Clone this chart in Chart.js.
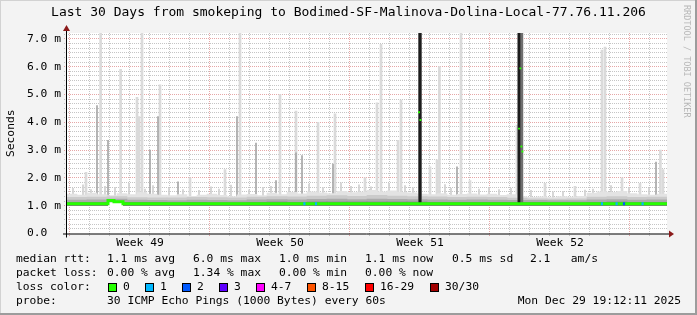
<!DOCTYPE html>
<html>
<head>
<meta charset="utf-8">
<script src="https://cdn.jsdelivr.net/npm/chart.js@4/dist/chart.umd.min.js"></script>
<style>
html, body { margin: 0; padding: 0; background: #f3f3f3; }
canvas { display: block; }
</style>
</head>
<body>
<canvas id="rrd" width="697" height="315"></canvas>
<script>
// ---- data (x in days since the start of the 30 day window) ----
var titleText = 'Last 30 Days from smokeping to Bodimed-SF-Malinova-Dolina-Local-77.76.11.206';
var yTickValues = [0, 1, 2, 3, 4, 5, 6, 7];
var yTickLabels = ['0.0  ', '1.0 m', '2.0 m', '3.0 m', '4.0 m', '5.0 m', '6.0 m', '7.0 m'];
var weekLabelDays = [3.65, 10.65, 17.65, 24.65];
var weekLabels = ['Week 49', 'Week 50', 'Week 51', 'Week 52'];

// smoke band, upper edge per half day
var smokeTop = [
    1.42, 1.38, 1.45, 1.40, 1.36, 1.44, 1.40, 1.47, 1.42, 1.38,
    1.36, 1.40, 1.34, 1.38, 1.42, 1.37, 1.33, 1.39, 1.41, 1.36,
    1.45, 1.40, 1.48, 1.43, 1.50, 1.46, 1.44, 1.52, 1.47, 1.49,
    1.55, 1.50, 1.53, 1.48, 1.46, 1.42, 1.40, 1.44, 1.38, 1.41,
    1.43, 1.39, 1.42, 1.37, 1.40, 1.33, 1.30, 1.32, 1.29, 1.33,
    1.31, 1.34, 1.45, 1.50, 1.48, 1.52, 1.44, 1.40, 1.38, 1.42
];
// upper and middle smoke layers, per day
var smokeUpper = [1.30, 1.31, 1.33, 1.29, 1.28, 1.28, 1.30, 1.29, 1.28, 1.31,
    1.33, 1.32, 1.35, 1.36, 1.34, 1.37, 1.35, 1.33, 1.32, 1.30,
    1.31, 1.30, 1.27, 1.25, 1.24, 1.25, 1.31, 1.33, 1.30, 1.31];
var smokeMid = [1.20, 1.21, 1.24, 1.20, 1.19, 1.18, 1.20, 1.19, 1.18, 1.21,
    1.22, 1.21, 1.23, 1.24, 1.22, 1.24, 1.23, 1.22, 1.21, 1.20,
    1.21, 1.20, 1.19, 1.19, 1.18, 1.18, 1.21, 1.22, 1.20, 1.21];
// dark core next to the median, per day
var smokeCore = [1.12, 1.12, 1.12, 1.12, 1.12, 1.11, 1.12, 1.11, 1.11, 1.12,
    1.13, 1.12, 1.13, 1.13, 1.13, 1.13, 1.13, 1.13, 1.12, 1.12,
    1.12, 1.12, 1.12, 1.12, 1.11, 1.11, 1.12, 1.13, 1.12, 1.12];
// stretch where the minimum rtt rose (empty below the smoke)
var raisedMinStart = 2.05;
var raisedMinEnd = 2.8;
var raisedMinValue = 1.12;

// hair-thin rtt outliers just above the smoke
var fleckDays = [0.3, 0.8, 1.2, 1.9, 2.4, 3.1, 3.9, 4.3, 5.1, 5.8, 6.6, 7.2, 7.6, 8.2, 9.1, 9.8,
    10.2, 11.1, 12.1, 12.8, 13.7, 14.2, 14.6, 15.2, 16.1, 16.9, 17.3, 18.9, 19.2, 20.6, 21.1,
    21.6, 22.2, 23.2, 24.3, 24.8, 25.9, 26.3, 27.2, 28.1, 29.1];
var fleckTops = [1.62, 1.75, 1.58, 1.7, 1.66, 1.8, 1.6, 1.72, 1.64, 1.58, 1.55, 1.68, 1.6, 1.74, 1.57, 1.66,
    1.7, 1.62, 1.78, 1.65, 1.82, 1.7, 1.75, 1.68, 1.8, 1.72, 1.64, 1.76, 1.62, 1.6, 1.66,
    1.58, 1.62, 1.55, 1.5, 1.52, 1.56, 1.6, 1.72, 1.66, 1.62];

// single rtt spikes: light (wide) and darker (thin)
var spikeLightDays = [0.95, 1.68, 2.68, 3.5, 3.6, 3.75, 4.65, 6.15, 7.9, 8.65, 10.65, 11.45, 12.55, 13.4,
    14.9, 15.5, 15.7, 16.55, 16.7, 18.15, 18.5, 18.62, 19.7, 20.15, 22.5, 23.9, 25.4, 26.75, 26.9,
    27.75, 28.65, 29.67, 29.8];
var spikeLightTops = [2.2, 7.2, 5.9, 4.9, 4.2, 7.2, 5.35, 2.0, 2.3, 7.2, 5.0, 4.4, 4.0, 4.3,
    2.0, 4.7, 6.8, 3.35, 4.8, 2.4, 2.65, 6.0, 7.2, 1.9, 3.9, 1.8, 1.7, 6.6, 6.7,
    2.0, 1.8, 3.0, 2.3];
var spikeDarkDays = [1.5, 2.05, 4.15, 4.55, 5.55, 8.5, 9.45, 10.45, 11.45, 11.75, 13.3, 19.5, 29.45];
var spikeDarkTops = [4.6, 3.35, 3.0, 4.2, 1.86, 4.2, 3.25, 1.9, 2.9, 2.8, 2.5, 2.4, 2.57];

// full-height outages
var outageDays = [17.65, 22.62, 22.72];
var outageCoreDays = [17.65, 22.6];

// median rtt (value holds from each day until the next) and the isolated medians during the outages
var medianDays = [0, 2.05, 2.35, 2.8, 30];
var medianValues = [1.07, 1.19, 1.14, 1.07, 1.07];
var medianHighDays = [17.6, 17.67, 22.6, 22.67, 22.72, 22.77];
var medianHighValues = [4.36, 4.08, 3.77, 5.94, 3.13, 2.95];

// samples with some packet loss (index into lossColors)
var lossDays = [11.87, 12.45, 26.75, 27.48, 27.85, 28.78];
var lossLevels = [1, 1, 1, 1, 2, 1];

var lossLabels = ['0', '1', '2', '3', '4-7', '8-15', '16-29', '30/30'];
var lossColors = ['#26ff00', '#00b8ff', '#0059ff', '#5e00ff', '#ff00ff', '#ff5500', '#ff0000', '#a10000'];

var statLines = [
    ['median rtt:', '1.1 ms avg', '6.0 ms max', '1.0 ms min', '1.1 ms now', '0.5 ms sd', '2.1   am/s'],
    ['packet loss:', '0.00 % avg', '1.34 % max', '0.00 % min', '0.00 % now']
];
var probeLabel = 'probe:';
var probeText = '30 ICMP Echo Pings (1000 Bytes) every 60s';
var stampText = 'Mon Dec 29 19:12:11 2025';
var creditText = 'RRDTOOL / TOBI OETIKER';

// ---- chart ----
var mono = '"DejaVu Sans Mono", monospace';
var smokeFloor = 1.0;

function floating(days, tops, base) {
    return days.map(function (d, i) { return { x: d, y: [base, tops[i]] }; });
}

function perDay(values) {
    return values.map(function (v, i) { return { x: i + 0.5, y: [smokeFloor, v] }; });
}

function line(ctx, x1, y1, x2, y2) {
    ctx.beginPath();
    ctx.moveTo(x1, y1);
    ctx.lineTo(x2, y2);
    ctx.stroke();
}

var rrdLook = {
    id: 'rrdLook',
    beforeDraw: function (chart) {
        var ctx = chart.ctx, a = chart.chartArea, x = chart.scales.x, y = chart.scales.y;
        ctx.save();
        ctx.fillStyle = '#f3f3f3';
        ctx.fillRect(0, 0, chart.width, chart.height);
        ctx.fillStyle = '#ffffff';
        ctx.fillRect(a.left, a.top, a.right - a.left, a.bottom - a.top);
        ctx.lineWidth = 1;
        ctx.setLineDash([1, 1]);
        // horizontal grid, minor every 1/6
        for (var k = 1; k <= 43; k++) {
            var py = Math.round(y.getPixelForValue(k / 6) - 0.5) + 0.5;
            ctx.strokeStyle = k % 6 === 0 ? 'rgba(205,80,80,0.5)' : 'rgba(150,150,150,0.55)';
            line(ctx, a.left - 3, py, a.right, py);
        }
        // vertical grid, one per day, week lines red
        for (var d = 0; d < 30; d++) {
            var px = Math.round(x.getPixelForValue(0.1 + d)) + 0.5;
            ctx.strokeStyle = d % 7 === 0 ? 'rgba(205,80,80,0.5)' : 'rgba(150,150,150,0.55)';
            line(ctx, px, a.top, px, a.bottom + 3);
        }
        ctx.restore();
    },
    afterDatasetsDraw: function (chart) {
        var ctx = chart.ctx, a = chart.chartArea;
        ctx.save();
        ctx.strokeStyle = '#000';
        ctx.lineWidth = 1;
        line(ctx, a.left - 4, a.bottom + 0.5, a.right + 3, a.bottom + 0.5);
        line(ctx, a.left - 0.5, a.bottom + 4, a.left - 0.5, a.top - 4);
        ctx.fillStyle = '#8b1a1a';
        ctx.beginPath();
        ctx.moveTo(a.right + 7, a.bottom + 0.5);
        ctx.lineTo(a.right + 2, a.bottom - 3);
        ctx.lineTo(a.right + 2, a.bottom + 4);
        ctx.closePath();
        ctx.fill();
        ctx.beginPath();
        ctx.moveTo(a.left - 0.5, a.top - 8);
        ctx.lineTo(a.left - 4, a.top - 2);
        ctx.lineTo(a.left + 3, a.top - 2);
        ctx.closePath();
        ctx.fill();
        ctx.restore();
    },
    afterDraw: function (chart) {
        var ctx = chart.ctx;
        ctx.save();
        ctx.font = '11.3px ' + mono;
        ctx.fillStyle = '#000';
        ctx.textBaseline = 'middle';
        var cols = [16, 107, 193, 279, 365, 452, 530];
        var rows = [259.5, 273.5, 287.5, 301.5];
        statLines.forEach(function (parts, r) {
            parts.forEach(function (t, i) { ctx.fillText(t, cols[i], rows[r]); });
        });
        ctx.fillText('loss color:', 16, rows[2]);
        var boxX = [108, 145, 182, 219, 256, 307, 365, 430];
        lossLabels.forEach(function (t, i) {
            ctx.fillStyle = '#000';
            ctx.fillRect(boxX[i], 283, 9, 9);
            ctx.fillStyle = lossColors[i];
            ctx.fillRect(boxX[i] + 1, 284, 7, 7);
            ctx.fillStyle = '#000';
            ctx.fillText(t, boxX[i] + 15, rows[2]);
        });
        ctx.fillText(probeLabel, 16, rows[3]);
        ctx.fillText(probeText, 107, rows[3]);
        ctx.textAlign = 'right';
        ctx.fillText(stampText, 681, rows[3]);
        // credit, rotated
        ctx.textAlign = 'left';
        ctx.fillStyle = '#b8b8b8';
        ctx.font = '8.5px ' + mono;
        ctx.translate(686, 5);
        ctx.rotate(Math.PI / 2);
        ctx.fillText(creditText, 0, 0);
        ctx.setTransform(1, 0, 0, 1, 0, 0);
        // frame
        ctx.fillStyle = '#d2d2d2';
        ctx.fillRect(0, 0, chart.width, 1);
        ctx.fillRect(0, 0, 1, chart.height);
        ctx.fillStyle = '#9c9c9c';
        ctx.fillRect(chart.width - 2, 0, 2, chart.height);
        ctx.fillRect(0, chart.height - 2, chart.width, 2);
        ctx.restore();
    }
};

var barBase = { type: 'bar', grouped: false, borderWidth: 0, yAxisID: 'y' };

new Chart(document.getElementById('rrd').getContext('2d'), {
    type: 'bar',
    data: {
        datasets: [
            {
                type: 'line', label: 'median outage', showLine: false, pointStyle: 'rect',
                pointRadius: 1.3, pointBorderWidth: 0, backgroundColor: lossColors[0],
                data: medianHighDays.map(function (d, i) { return { x: d, y: medianHighValues[i] }; })
            },
            Object.assign({}, barBase, {
                label: 'loss', barThickness: 1.5,
                backgroundColor: lossLevels.map(function (l) { return lossColors[l]; }),
                data: lossDays.map(function (d) { return { x: d, y: [1.025, 1.115] }; })
            }),
            {
                // Chart.js 'before' keeps each point's value until the next point
                type: 'line', label: 'median', stepped: 'before', borderColor: lossColors[0],
                backgroundColor: lossColors[0], borderWidth: 3, pointRadius: 0, fill: false,
                data: medianDays.map(function (d, i) { return { x: d, y: medianValues[i] }; })
            },
            Object.assign({}, barBase, {
                label: 'outage core', barThickness: 2, backgroundColor: '#1c1c1c',
                data: outageCoreDays.map(function (d) { return { x: d, y: [1.05, 7.21] }; })
            }),
            Object.assign({}, barBase, {
                label: 'outage', barThickness: 3, backgroundColor: '#6e6e6e',
                data: outageDays.map(function (d) { return { x: d, y: [1.05, 7.21] }; })
            }),
            {
                // empty strip under the smoke where the minimum rose
                type: 'line', label: 'raised min', stepped: 'before', borderWidth: 0,
                pointRadius: 0, backgroundColor: '#ffffff', fill: { value: smokeFloor - 0.02 },
                data: [{ x: raisedMinStart, y: raisedMinValue }, { x: raisedMinEnd, y: raisedMinValue }]
            },
            Object.assign({}, barBase, {
                label: 'smoke core', barThickness: 20, backgroundColor: '#7c7c7c',
                data: perDay(smokeCore)
            }),
            Object.assign({}, barBase, {
                label: 'smoke mid', barThickness: 20, backgroundColor: '#ababab',
                data: perDay(smokeMid)
            }),
            Object.assign({}, barBase, {
                label: 'smoke upper', barThickness: 20, backgroundColor: '#cbcbcb',
                data: perDay(smokeUpper)
            }),
            Object.assign({}, barBase, {
                label: 'smoke', barThickness: 10, backgroundColor: '#e3e3e3',
                data: smokeTop.map(function (v, i) { return { x: i * 0.5 + 0.25, y: [smokeFloor, v] }; })
            }),
            Object.assign({}, barBase, {
                label: 'flecks', barThickness: 1, backgroundColor: '#cfcfcf',
                data: floating(fleckDays, fleckTops, smokeFloor)
            }),
            Object.assign({}, barBase, {
                label: 'spikes dark', barThickness: 1, backgroundColor: '#a6a6a6',
                data: floating(spikeDarkDays, spikeDarkTops, smokeFloor)
            }),
            Object.assign({}, barBase, {
                label: 'spikes', barThickness: 2, backgroundColor: '#dadada',
                data: floating(spikeLightDays, spikeLightTops, smokeFloor)
            })
        ]
    },
    options: {
        responsive: false,
        animation: false,
        devicePixelRatio: 1,
        events: [],
        plugins: {
            legend: { display: false },
            tooltip: { enabled: false },
            filler: { propagate: false },
            title: {
                display: true, text: titleText, color: '#000',
                font: { family: mono, size: 13, weight: 'normal' },
                padding: { top: 5, bottom: 12.4 }
            }
        },
        scales: {
            x: {
                type: 'linear', min: 0, max: 30, offset: false,
                grid: { display: false, drawTicks: false }, border: { display: false },
                afterBuildTicks: function (s) { s.ticks = weekLabelDays.map(function (v) { return { value: v }; }); },
                afterFit: function (s) { s.height = 81.5; },
                ticks: {
                    autoSkip: false, maxRotation: 0, padding: 3, color: '#000',
                    font: { family: mono, size: 11.3 },
                    callback: function (v, i) { return weekLabels[i]; }
                }
            },
            y: {
                min: 0, max: 7.21,
                grid: { display: false, drawTicks: false }, border: { display: false },
                afterBuildTicks: function (s) { s.ticks = yTickValues.map(function (v) { return { value: v }; }); },
                afterFit: function (s) { s.width = 67; },
                ticks: {
                    padding: 6, color: '#000', font: { family: mono, size: 11.3 },
                    callback: function (v, i) { return yTickLabels[i]; }
                },
                title: {
                    display: true, text: 'Seconds', color: '#000',
                    font: { family: mono, size: 11.3 }, padding: { top: 4, bottom: 0 }
                }
            },
            yR: {
                position: 'right',
                grid: { display: false, drawTicks: false }, border: { display: false },
                ticks: { display: false },
                afterFit: function (s) { s.width = 30; }
            }
        }
    },
    plugins: [rrdLook]
});
</script>
</body>
</html>
